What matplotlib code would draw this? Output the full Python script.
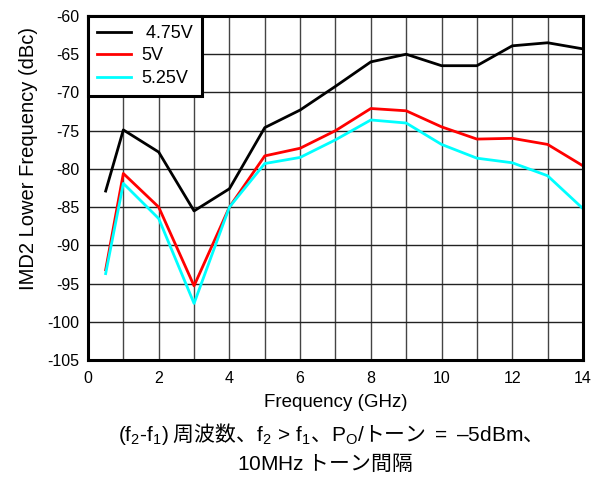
import numpy as np
import matplotlib
matplotlib.use("Agg")
import matplotlib.pyplot as plt
from matplotlib.ticker import MultipleLocator

plt.rcParams['font.family'] = ['Liberation Sans', 'Noto Sans CJK JP', 'DejaVu Sans']
plt.rcParams['axes.unicode_minus'] = False
plt.rcParams['mathtext.fontset'] = 'custom'
plt.rcParams['mathtext.rm'] = 'Liberation Sans'
plt.rcParams['mathtext.it'] = 'Liberation Sans'

# данные
freq = [0.5, 1, 2, 3, 4, 5, 6, 7, 8, 9, 10, 11, 12, 13, 14]
imd_475 = [-82.9, -74.9, -77.8, -85.5, -82.6, -74.6, -72.3, -69.2, -66.0, -65.0, -66.5, -66.5, -63.9, -63.5, -64.3]
imd_500 = [-93.2, -80.6, -85.0, -95.3, -85.0, -78.3, -77.3, -75.0, -72.1, -72.4, -74.5, -76.1, -76.0, -76.8, -79.6]
imd_525 = [-93.7, -81.9, -86.5, -97.6, -85.0, -79.3, -78.5, -76.2, -73.6, -74.0, -76.8, -78.6, -79.2, -80.9, -85.2]
labels = [' 4.75V', '5V', '5.25V']
colors = ['black', 'red', 'cyan']

# подпись: латиница через mathtext (Liberation), японский — обычным текстом (Noto CJK)
caption1 = (r'$\mathrm{(f_2\text{-}f_1)}$ 周波数、$\mathrm{f_2\,>\,f_1}$、'
            r'$\mathrm{P_O/}$トーン$\mathrm{\ =\ –5dBm}$、')
caption2 = r'$\mathrm{10MHz}$ トーン間隔'

fig = plt.figure(figsize=(6.01, 4.78), dpi=100)
ax = fig.add_axes([0.1464, 0.2469, 0.8236, 0.7196])

for y, lab, c in zip([imd_475, imd_500, imd_525], labels, colors):
    ax.plot(freq, y, color=c, lw=2.0, label=lab)

ax.set_xlim(0, 14)
ax.set_ylim(-105, -60)
ax.xaxis.set_major_locator(MultipleLocator(2))
ax.xaxis.set_minor_locator(MultipleLocator(1))
ax.yaxis.set_major_locator(MultipleLocator(5))
ax.grid(True, which='both', axis='x', color='#444444', lw=1)
ax.grid(True, which='major', axis='y', color='#222222', lw=1)
ax.tick_params(which='both', length=0, labelsize=11.5)
ax.tick_params(axis='x', pad=8)
ax.tick_params(axis='y', pad=6)
for s in ax.spines.values():
    s.set_linewidth(2.2)

ax.set_xlabel('Frequency (GHz)', fontsize=13.5, labelpad=6)
ax.set_ylabel('IMD2 Lower Frequency (dBc)', fontsize=14.5)
ax.yaxis.set_label_coords(-0.100, 0.587)

leg = ax.legend(loc='upper left', fontsize=13, frameon=True, fancybox=False,
                borderaxespad=0, handlelength=1.9, handletextpad=0.55,
                labelspacing=0.3, borderpad=0.5)
leg.get_frame().set_edgecolor('black')
leg.get_frame().set_linewidth(2.2)
leg.get_frame().set_alpha(1)

fig.text(0.54, 0.093, caption1, ha='center', va='center', fontsize=15,
         family='Noto Sans CJK JP')
fig.text(0.541, 0.029, caption2, ha='center', va='center', fontsize=15,
         family='Noto Sans CJK JP')

fig.savefig('out.png', dpi=100)
